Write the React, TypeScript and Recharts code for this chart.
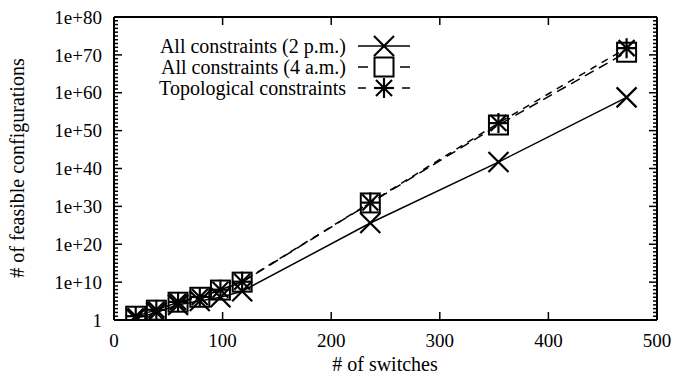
import React from "react";
import { LineChart, Line, XAxis, YAxis } from "recharts";

document.body.style.margin = "0";

// # of switches
const switches = [20, 39, 59, 79, 98, 118, 236, 354, 472];
// # of feasible configurations per series
const allTwoPm = [3, 1e2, 1e4, 1e5, 1e6, 4e7, 4e25, 5e41, 6e58];
const allFourAm = [10, 4e2, 5e4, 1e6, 8e7, 1e10, 8e30, 3e51, 5e70];
const topological = [10, 5e2, 6e4, 1.2e6, 1e8, 1.3e10, 1e31, 1e52, 6e71];

const xTicks = [0, 100, 200, 300, 400, 500];
const yMajorTicks = [1, 1e10, 1e20, 1e30, 1e40, 1e50, 1e60, 1e70, 1e80];
const yMajorLabels = ["1", "1e+10", "1e+20", "1e+30", "1e+40", "1e+50", "1e+60", "1e+70", "1e+80"];
// one minor tick per decade
const yAllTicks = Array.from({ length: 81 }, (_, i) => Number(`1e${i}`));

const legendLabels = ["All constraints (2 p.m.)", "All constraints (4 a.m.)", "Topological constraints"];

const data = switches.map((x, i) => ({
  x,
  twoPm: allTwoPm[i],
  fourAm: allFourAm[i],
  topo: topological[i],
}));

const FONT = "'Liberation Serif', 'Times New Roman', serif";
const W = 681;
const H = 382;

function CrossMark({ cx, cy }: { cx: number; cy: number }) {
  const r = 10;
  return (
    <g stroke="#000" strokeWidth={2.2}>
      <line x1={cx - r} y1={cy - r} x2={cx + r} y2={cy + r} />
      <line x1={cx - r} y1={cy + r} x2={cx + r} y2={cy - r} />
    </g>
  );
}

function SquareMark({ cx, cy }: { cx: number; cy: number }) {
  const r = 9.5;
  return <rect x={cx - r} y={cy - r} width={2 * r} height={2 * r} fill="none" stroke="#000" strokeWidth={2} />;
}

function StarMark({ cx, cy }: { cx: number; cy: number }) {
  const r = 10;
  const d = 8;
  return (
    <g stroke="#000" strokeWidth={2.2}>
      <line x1={cx} y1={cy - r} x2={cx} y2={cy + r} />
      <line x1={cx - r} y1={cy} x2={cx + r} y2={cy} />
      <line x1={cx - d} y1={cy - d} x2={cx + d} y2={cy + d} />
      <line x1={cx - d} y1={cy + d} x2={cx + d} y2={cy - d} />
    </g>
  );
}

function YTick(props: any) {
  const { x, y, payload, side } = props;
  const exp = Math.round(Math.log10(payload.value));
  const major = exp % 10 === 0;
  const len = major ? 8 : 4;
  const dir = side === "left" ? 1 : -1;
  const idx = yMajorTicks.indexOf(payload.value);
  return (
    <g>
      <line x1={x} y1={y} x2={x + dir * len} y2={y} stroke="#000" strokeWidth={1.5} />
      {side === "left" && major && idx >= 0 && (
        <text x={x - 12} y={y} dy="0.35em" textAnchor="end" fontFamily={FONT} fontSize={19} fill="#000">
          {yMajorLabels[idx]}
        </text>
      )}
    </g>
  );
}

function XTick(props: any) {
  const { x, y, payload, side } = props;
  const dir = side === "bottom" ? -1 : 1;
  return (
    <g>
      <line x1={x} y1={y} x2={x} y2={y + dir * 8} stroke="#000" strokeWidth={1.5} />
      {side === "bottom" && (
        <text x={x} y={y + 27} textAnchor="middle" fontFamily={FONT} fontSize={19} fill="#000">
          {payload.value}
        </text>
      )}
    </g>
  );
}

function LegendOverlay() {
  const textX = 346;
  const rows = [46, 67, 88];
  const lx1 = 358;
  const lx2 = 410;
  const mx = 384;
  return (
    <svg width={W} height={H} style={{ position: "absolute", left: 0, top: 0, pointerEvents: "none" }}>
      {legendLabels.map((label, i) => (
        <text key={label} x={textX} y={rows[i] + 7} textAnchor="end" fontFamily={FONT} fontSize={20} fill="#000">
          {label}
        </text>
      ))}
      <line x1={lx1} y1={rows[0]} x2={lx2} y2={rows[0]} stroke="#000" strokeWidth={1.5} />
      <CrossMark cx={mx} cy={rows[0]} />
      <line x1={lx1} y1={rows[1]} x2={lx2} y2={rows[1]} stroke="#000" strokeWidth={1.5} strokeDasharray="10 32" />
      <SquareMark cx={mx} cy={rows[1]} />
      <line x1={lx1} y1={rows[2]} x2={lx2} y2={rows[2]} stroke="#000" strokeWidth={1.5} strokeDasharray="8 36" />
      <StarMark cx={mx} cy={rows[2]} />
      <text x={385} y={371} textAnchor="middle" fontFamily={FONT} fontSize={20} fill="#000">
        # of switches
      </text>
      <text
        x={24}
        y={168}
        transform="rotate(-90, 24, 168)"
        textAnchor="middle"
        fontFamily={FONT}
        fontSize={20}
        fill="#000"
      >
        # of feasible configurations
      </text>
    </svg>
  );
}

export default function App() {
  return (
    <div style={{ position: "relative", width: W, height: H, background: "#fff" }}>
      <LineChart width={W} height={H} data={data} margin={{ top: 16, right: 23, left: 0, bottom: 0 }}>
        <XAxis
          xAxisId="bottom"
          dataKey="x"
          type="number"
          domain={[0, 500]}
          ticks={xTicks}
          interval={0}
          height={62}
          tickSize={0}
          tickMargin={0}
          axisLine={{ stroke: "#000", strokeWidth: 2 }}
          tickLine={false}
          tick={<XTick side="bottom" />}
        />
        <XAxis
          xAxisId="top"
          orientation="top"
          dataKey="x"
          type="number"
          domain={[0, 500]}
          ticks={xTicks}
          interval={0}
          height={1}
          tickSize={0}
          tickMargin={0}
          axisLine={{ stroke: "#000", strokeWidth: 2 }}
          tickLine={false}
          tick={<XTick side="top" />}
        />
        <YAxis
          yAxisId="left"
          scale="log"
          type="number"
          domain={[1, 1e80]}
          allowDataOverflow
          ticks={yAllTicks}
          interval={0}
          width={114}
          tickSize={0}
          tickMargin={0}
          axisLine={{ stroke: "#000", strokeWidth: 2 }}
          tickLine={false}
          tick={<YTick side="left" />}
        />
        <YAxis
          yAxisId="right"
          orientation="right"
          scale="log"
          type="number"
          domain={[1, 1e80]}
          allowDataOverflow
          ticks={yAllTicks}
          interval={0}
          width={1}
          tickSize={0}
          tickMargin={0}
          axisLine={{ stroke: "#000", strokeWidth: 2 }}
          tickLine={false}
          tick={<YTick side="right" />}
        />
        <Line
          xAxisId="bottom"
          yAxisId="left"
          dataKey="twoPm"
          type="linear"
          stroke="#000"
          strokeWidth={1.5}
          isAnimationActive={false}
          dot={(p: any) => <CrossMark key={`c-${p.index}`} cx={p.cx} cy={p.cy} />}
        />
        <Line
          xAxisId="bottom"
          yAxisId="left"
          dataKey="fourAm"
          type="linear"
          stroke="#000"
          strokeWidth={1.5}
          strokeDasharray="10 6"
          isAnimationActive={false}
          dot={(p: any) => <SquareMark key={`s-${p.index}`} cx={p.cx} cy={p.cy} />}
        />
        <Line
          xAxisId="bottom"
          yAxisId="left"
          dataKey="topo"
          type="linear"
          stroke="#000"
          strokeWidth={1.5}
          strokeDasharray="7 6"
          isAnimationActive={false}
          dot={(p: any) => <StarMark key={`t-${p.index}`} cx={p.cx} cy={p.cy} />}
        />
      </LineChart>
      <LegendOverlay />
    </div>
  );
}
